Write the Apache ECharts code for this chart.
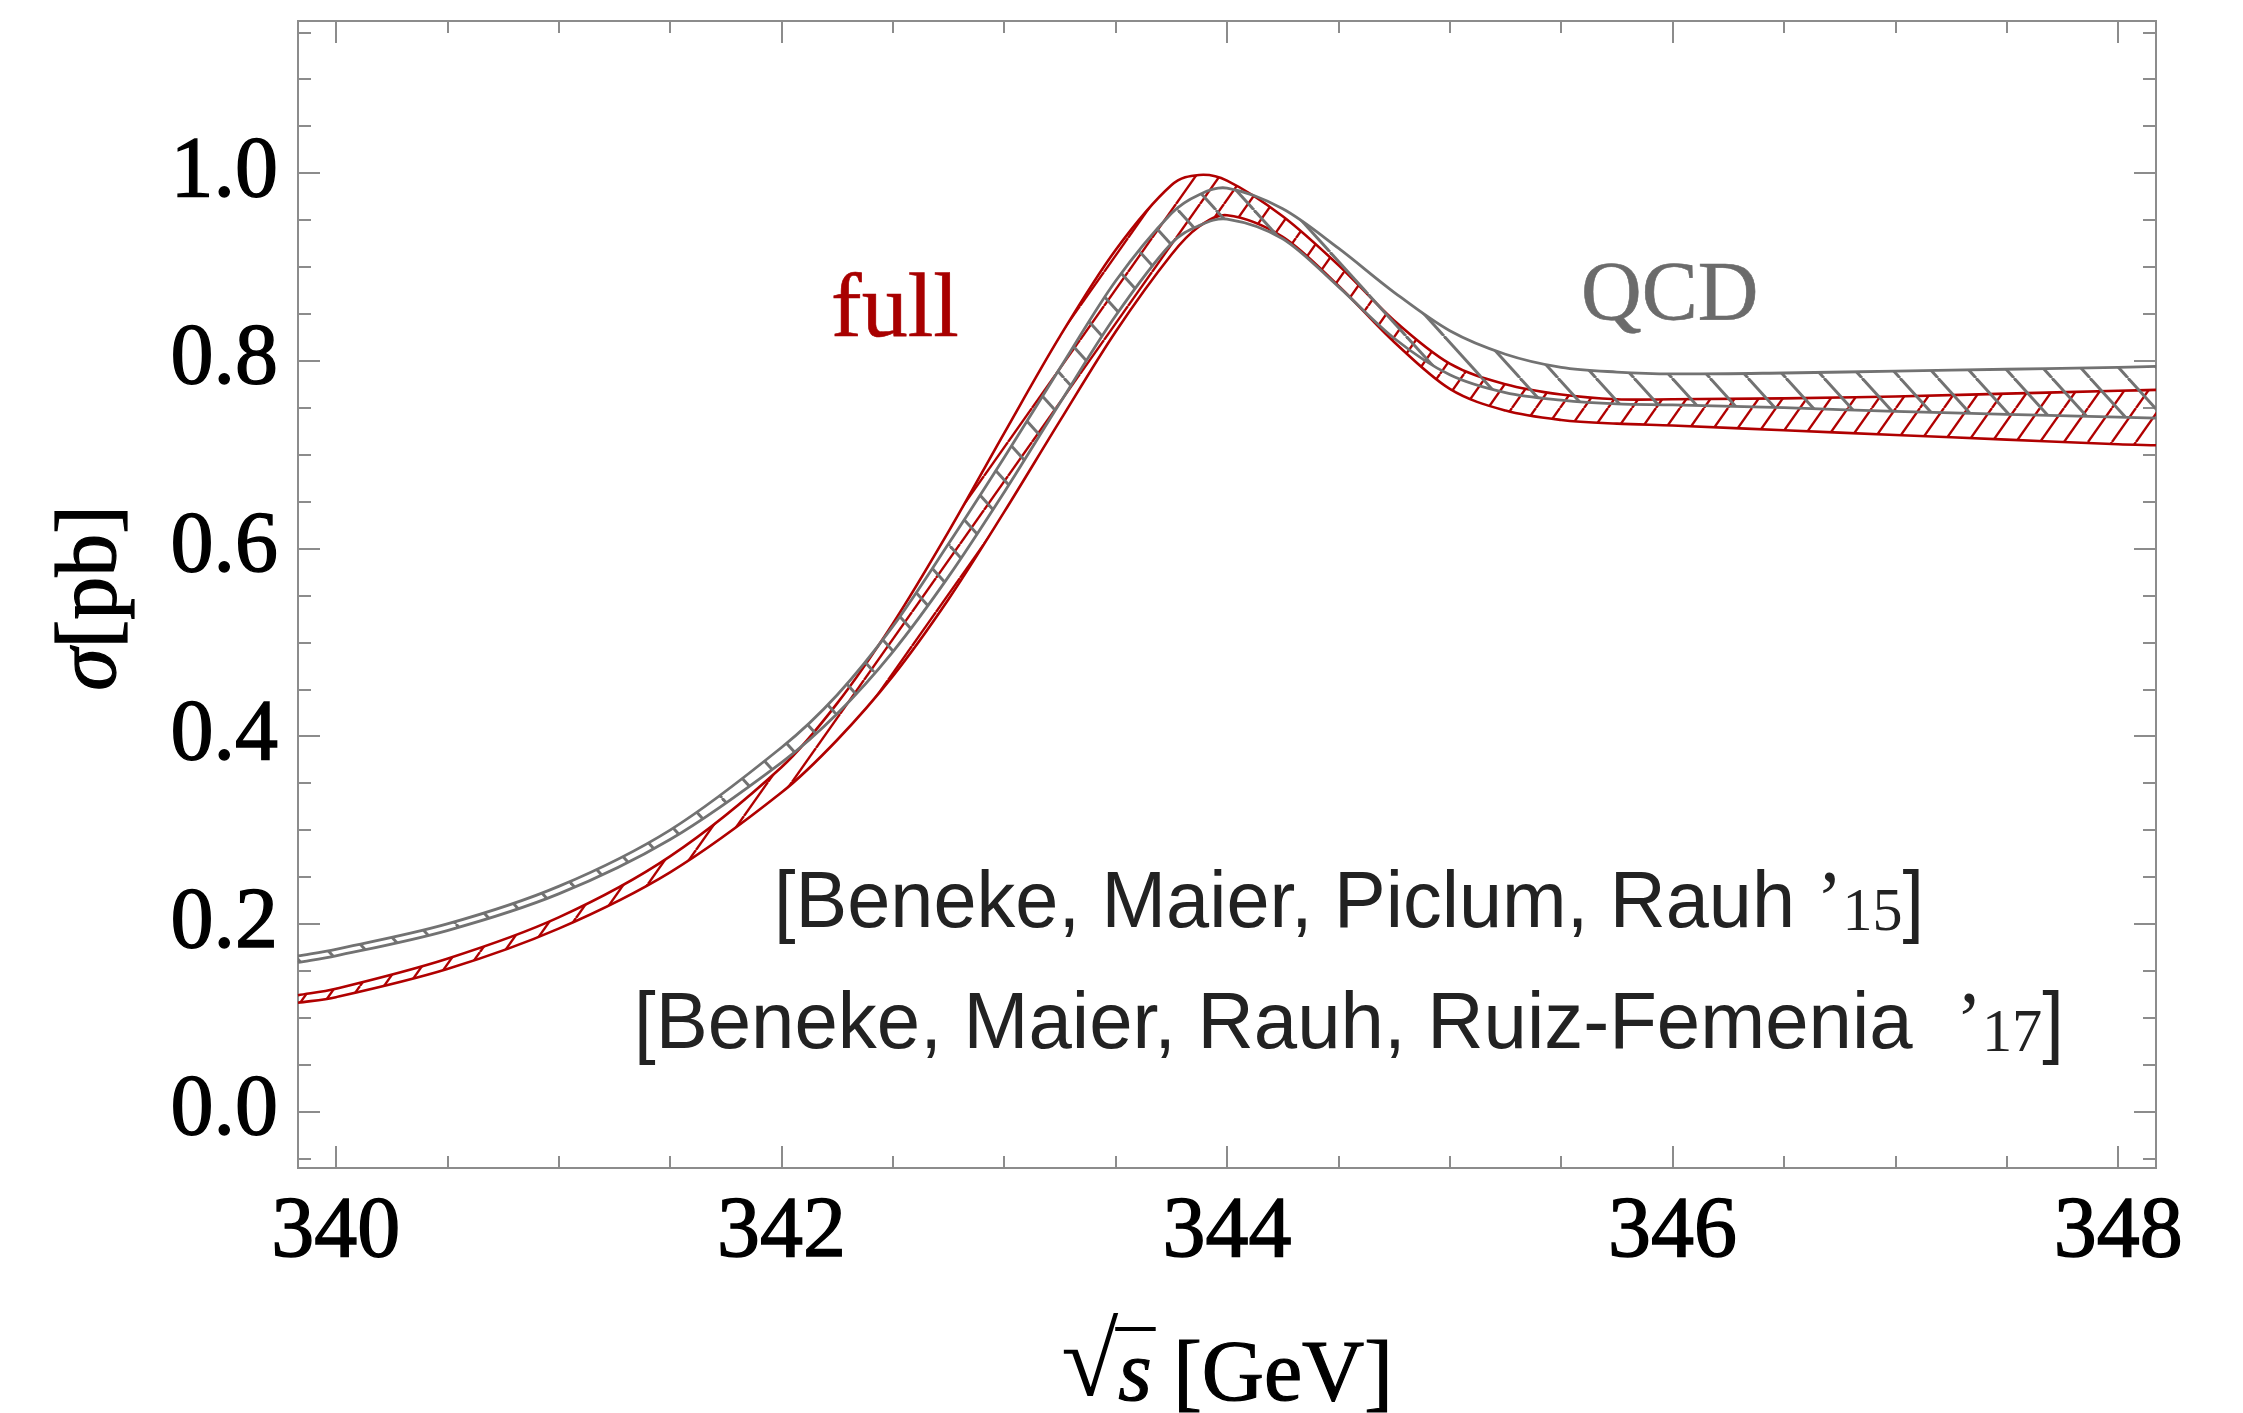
<!DOCTYPE html>
<html>
<head>
<meta charset="UTF-8">
<title>ttbar threshold cross section</title>
<style>
  html, body { margin: 0; padding: 0; background: #ffffff; }
  #chart { width: 2243px; height: 1413px; }
</style>
</head>
<body>
<div id="chart"></div>
<script src="https://cdn.jsdelivr.net/npm/echarts@6.0.0/dist/echarts.min.js"></script>
<script>
// centre-of-mass energy sqrt(s) [GeV]
var sqrtS    = [339.83, 340, 340.5, 341, 341.5, 342, 342.25, 342.5, 342.75, 343, 343.25, 343.5, 343.75, 343.875,
                344, 344.25, 344.5, 344.75, 345, 345.25, 345.5, 345.75, 346, 346.5, 347, 347.5, 348, 348.17];
// QCD band (grey)
var qcdHigh  = [0.166, 0.173, 0.200, 0.240, 0.300, 0.388, 0.444, 0.517, 0.605, 0.697, 0.792, 0.885, 0.957, 0.977,
                0.984, 0.962, 0.920, 0.873, 0.832, 0.807, 0.793, 0.788, 0.786, 0.787, 0.789, 0.791, 0.793, 0.794];
var qcdLow   = [0.159, 0.166, 0.193, 0.232, 0.290, 0.372, 0.424, 0.490, 0.570, 0.660, 0.755, 0.848, 0.925, 0.944,
                0.951, 0.930, 0.879, 0.824, 0.785, 0.766, 0.758, 0.754, 0.753, 0.750, 0.746, 0.743, 0.740, 0.739];
// full band (red)
var fullHigh = [0.124, 0.131, 0.163, 0.207, 0.272, 0.367, 0.435, 0.520, 0.618, 0.723, 0.826, 0.918, 0.987, 0.998,
                0.992, 0.954, 0.902, 0.843, 0.797, 0.775, 0.764, 0.759, 0.759, 0.760, 0.762, 0.765, 0.768, 0.769];
var fullLow  = [0.116, 0.122, 0.152, 0.195, 0.255, 0.340, 0.396, 0.464, 0.546, 0.639, 0.736, 0.831, 0.913, 0.943,
                0.955, 0.932, 0.880, 0.820, 0.770, 0.747, 0.737, 0.733, 0.731, 0.726, 0.721, 0.716, 0.711, 0.710];

var xMajorTicks = [340, 342, 344, 346, 348];
var xMinorTicks = [340.5, 341, 341.5, 342.5, 343, 343.5, 344.5, 345, 345.5, 346.5, 347, 347.5];
var yMajorTicks = [0, 0.2, 0.4, 0.6, 0.8, 1.0];
var yMinorTicks = [-0.05, 0.05, 0.1, 0.15, 0.25, 0.3, 0.35, 0.45, 0.5, 0.55, 0.65, 0.7, 0.75,
                   0.85, 0.9, 0.95, 1.05, 1.1, 1.15];

var RED = '#b00000';
var GREY = '#727272';
var FRAME = '#8c8c8c';
var SERIF = '"Liberation Serif", "DejaVu Serif", serif';
var SANS = '"Liberation Sans", Arial, sans-serif';

var chart = echarts.init(document.getElementById('chart'));

// hatch tile: dir > 0 -> "/" lines, dir < 0 -> "\" lines
function hatch(color, w, h, dir, lw) {
  var c = document.createElement('canvas');
  c.width = w;
  c.height = h;
  var g = c.getContext('2d');
  g.strokeStyle = color;
  g.lineWidth = lw;
  for (var k = -1; k <= 1; k++) {
    g.beginPath();
    if (dir > 0) {
      g.moveTo(k * w, h);
      g.lineTo(k * w + w, 0);
    } else {
      g.moveTo(k * w, 0);
      g.lineTo(k * w + w, h);
    }
    g.stroke();
  }
  return { image: c, repeat: 'repeat' };
}

// smooth x-monotone cubic through pixel points
function curve(pts, cmd) {
  var n = pts.length, m = [], i;
  for (i = 0; i < n; i++) {
    var a = pts[Math.max(i - 1, 0)], b = pts[Math.min(i + 1, n - 1)];
    m.push((b[1] - a[1]) / (b[0] - a[0]));
  }
  var d = cmd + pts[0][0].toFixed(2) + ' ' + pts[0][1].toFixed(2);
  for (i = 0; i < n - 1; i++) {
    var h = (pts[i + 1][0] - pts[i][0]) / 3;
    d += ' C' + (pts[i][0] + h).toFixed(2) + ' ' + (pts[i][1] + m[i] * h).toFixed(2) +
         ' ' + (pts[i + 1][0] - h).toFixed(2) + ' ' + (pts[i + 1][1] - m[i + 1] * h).toFixed(2) +
         ' ' + pts[i + 1][0].toFixed(2) + ' ' + pts[i + 1][1].toFixed(2);
  }
  return d;
}

function band(name, lo, hi, color, pattern, lw) {
  return {
    name: name, type: 'custom', silent: true,
    xAxisIndex: 0, yAxisIndex: 0,
    data: [0],
    renderItem: function (params, api) {
      var up = sqrtS.map(function (x, i) { return api.coord([x, hi[i]]); });
      var dn = sqrtS.map(function (x, i) { return api.coord([x, lo[i]]); });
      var upD = curve(up, 'M');
      var dnD = curve(dn, 'M');
      var areaD = upD + ' ' + curve(dn.slice().reverse(), 'L') + ' Z';
      return {
        type: 'group',
        children: [
          { type: 'path', shape: { pathData: areaD }, style: { fill: pattern, stroke: null } },
          { type: 'path', shape: { pathData: upD }, style: { fill: null, stroke: color, lineWidth: lw } },
          { type: 'path', shape: { pathData: dnD }, style: { fill: null, stroke: color, lineWidth: lw } }
        ]
      };
    }
  };
}

var measure = document.createElement('canvas').getContext('2d');
function textWidth(font, s) {
  measure.font = font;
  return measure.measureText(s).width;
}

function xAxis(grid, pos, ticks, len, withLabels) {
  return {
    type: 'value', gridIndex: grid, position: pos, min: 339.83, max: 348.17,
    axisLine: { show: false, onZero: false }, splitLine: { show: false },
    axisTick: { show: true, inside: true, length: len, customValues: ticks,
                lineStyle: { color: FRAME, width: 2 } },
    axisLabel: withLabels ? {
      show: true, customValues: ticks, margin: 22, color: '#000',
      fontFamily: SERIF, fontSize: 86, textBorderColor: '#000', textBorderWidth: 1.4,
      formatter: function (v) { return v.toFixed(0); }
    } : { show: false }
  };
}
function yAxis(grid, pos, ticks, len, withLabels) {
  return {
    type: 'value', gridIndex: grid, position: pos, min: -0.06, max: 1.162,
    axisLine: { show: false, onZero: false }, splitLine: { show: false },
    axisTick: { show: true, inside: true, length: len, customValues: ticks,
                lineStyle: { color: FRAME, width: 2 } },
    axisLabel: withLabels ? {
      show: true, customValues: ticks, margin: 20, color: '#000',
      fontFamily: SERIF, fontSize: 86, textBorderColor: '#000', textBorderWidth: 1.4,
      formatter: function (v) { return v.toFixed(1); }
    } : { show: false }
  };
}

// citation lines: condensed sans with serif year
var cite1a = '[Beneke, Maier, Piclum, Rauh ', cite1b = '15';
var cite2a = '[Beneke, Maier, Rauh, Ruiz-Femenia  ', cite2b = '17';
var w1 = textWidth('80px ' + SANS, cite1a + ']') + textWidth('80px ' + SERIF, '\u2019') + textWidth('62px ' + SERIF, cite1b);
var w2 = textWidth('80px ' + SANS, cite2a + ']') + textWidth('80px ' + SERIF, '\u2019') + textWidth('62px ' + SERIF, cite2b);
var citeRich = {
  a: { fontFamily: SANS, fontSize: 80, fill: '#222', verticalAlign: 'bottom' },
  q: { fontFamily: SERIF, fontSize: 80, fill: '#222', verticalAlign: 'bottom' },
  b: { fontFamily: SERIF, fontSize: 62, fill: '#222', verticalAlign: 'bottom' }
};

// x title pieces
var wr = textWidth('104px ' + SERIF, '\u221A');
var ws = textWidth('italic 86px ' + SERIF, 's');
var wg = textWidth('86px ' + SERIF, ' [GeV]');
var xTitleLeft = 1227 - (wr + ws + wg) / 2;

var option = {
  animation: false,
  backgroundColor: '#ffffff',
  grid: [
    { left: 298, right: 87, top: 21, bottom: 245, show: true, borderColor: FRAME, borderWidth: 2 },
    { left: 298, right: 87, top: 21, bottom: 245 }
  ],
  xAxis: [
    xAxis(0, 'bottom', xMajorTicks, 22, true),
    xAxis(0, 'top', xMajorTicks, 22, false),
    xAxis(1, 'bottom', xMinorTicks, 12, false),
    xAxis(1, 'top', xMinorTicks, 12, false)
  ],
  yAxis: [
    yAxis(0, 'left', yMajorTicks, 22, true),
    yAxis(0, 'right', yMajorTicks, 22, false),
    yAxis(1, 'left', yMinorTicks, 13, false),
    yAxis(1, 'right', yMinorTicks, 13, false)
  ],
  series: [
    band('full', fullLow, fullHigh, RED, hatch(RED, 24, 34, 1, 2.4), 2.6),
    band('QCD', qcdLow, qcdHigh, GREY, hatch(GREY, 38, 42, -1, 2.9), 2.8)
  ],
  graphic: [
    { type: 'text', x: 831, y: 312, silent: true,
      style: { text: 'full', font: '92px ' + SERIF, fill: '#a80000', stroke: '#a80000', lineWidth: 0.6,
               textAlign: 'left', align: 'left', textVerticalAlign: 'middle', verticalAlign: 'middle' } },
    { type: 'text', x: 1581, y: 298, silent: true,
      style: { text: 'QCD', font: '84px ' + SERIF, fill: '#6b6b6b', stroke: '#6b6b6b', lineWidth: 0.6,
               textAlign: 'left', align: 'left', textVerticalAlign: 'middle', verticalAlign: 'middle' } },
    { type: 'text', x: 1349, y: 905, scaleX: 1150 / w1, silent: true,
      style: { text: '{a|' + cite1a + '}{q|\u2019}{b|' + cite1b + '}{a|]}', rich: citeRich,
               textAlign: 'center', align: 'center', textVerticalAlign: 'middle', verticalAlign: 'middle' } },
    { type: 'text', x: 1349, y: 1026, scaleX: 1430 / w2, silent: true,
      style: { text: '{a|' + cite2a + '}{q|\u2019}{b|' + cite2b + '}{a|]}', rich: citeRich,
               textAlign: 'center', align: 'center', textVerticalAlign: 'middle', verticalAlign: 'middle' } },
    { type: 'text', x: 92, y: 598, rotation: Math.PI / 2, silent: true,
      style: { text: '{i|\u03C3}{n|[pb]}',
               rich: { i: { fontFamily: SERIF, fontStyle: 'italic', fontSize: 86, fill: '#000', stroke: '#000', lineWidth: 1.2 },
                       n: { fontFamily: SERIF, fontSize: 86, fill: '#000', stroke: '#000', lineWidth: 1.2 } },
               textAlign: 'center', align: 'center', textVerticalAlign: 'middle', verticalAlign: 'middle' } },
    { type: 'text', x: xTitleLeft, y: 1368, silent: true,
      style: { text: '{r|\u221A}{s|s}{n| [GeV]}',
               rich: { r: { fontFamily: SERIF, fontSize: 104, fill: '#000', verticalAlign: 'bottom' },
                       s: { fontFamily: SERIF, fontStyle: 'italic', fontSize: 86, fill: '#000', stroke: '#000', lineWidth: 1.2, verticalAlign: 'bottom' },
                       n: { fontFamily: SERIF, fontSize: 86, fill: '#000', stroke: '#000', lineWidth: 1.2, verticalAlign: 'bottom' } },
               textAlign: 'left', align: 'left', textVerticalAlign: 'middle', verticalAlign: 'middle' } },
    { type: 'line', silent: true,
      shape: { x1: xTitleLeft + wr - 3, y1: 1329, x2: xTitleLeft + wr + ws + 4, y2: 1329 },
      style: { stroke: '#000', lineWidth: 4 } }
  ]
};

chart.setOption(option);
</script>
</body>
</html>
